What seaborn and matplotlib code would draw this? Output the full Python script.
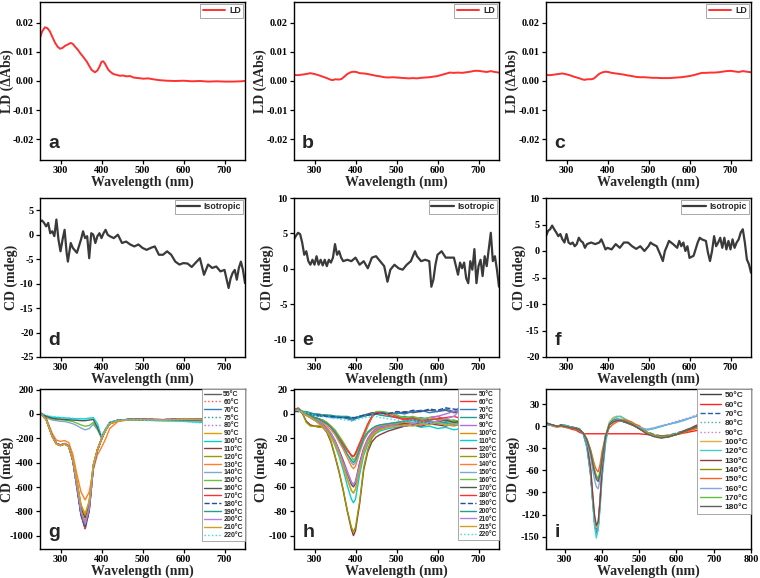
import matplotlib
matplotlib.use("Agg")
import matplotlib.pyplot as plt
import seaborn as sns

# ---------------- data ----------------
# Panel a: LD
a_wl = [250, 255, 262, 268, 274, 280, 287, 293, 299, 305, 311, 318, 325, 330, 335, 342, 348, 356, 364, 370,
        376, 384, 390, 396, 400, 404, 408, 413, 417, 423, 429, 437, 445, 453, 461, 470, 478, 490, 502, 514,
        526, 540, 559, 580, 600, 620, 640, 660, 681, 700, 722, 740, 750]
a_ld = [0.0148, 0.0170, 0.0185, 0.0182, 0.0171, 0.0152, 0.0131, 0.0118, 0.0111, 0.0114, 0.0121, 0.0126,
        0.0131, 0.0128, 0.0119, 0.0108, 0.0096, 0.0082, 0.0067, 0.0052, 0.0038, 0.0030, 0.0036, 0.0052,
        0.0066, 0.0068, 0.0061, 0.0048, 0.0038, 0.0030, 0.0024, 0.0021, 0.0018, 0.0019, 0.0016, 0.0017,
        0.0012, 0.0010, 0.0008, 0.0009, 0.0006, 0.0003, 0.0001, 0.0000, 0.0001, -0.0001, 0.0000, -0.0002,
        -0.0001, -0.0002, -0.0002, -0.0001, 0.0000]

# Panels b, c: LD
bc_wl = [250, 260, 270, 280, 290, 300, 310, 320, 330, 340, 345, 350, 360, 366, 372, 380, 388, 395, 402, 410,
         420, 430, 440, 450, 460, 470, 480, 490, 500, 510, 520, 530, 540, 550, 560, 570, 580, 590, 600, 610,
         620, 630, 640, 650, 660, 670, 680, 690, 700, 710, 720, 730, 740, 750]
b_ld = [0.0021, 0.0020, 0.0022, 0.0024, 0.0027, 0.0024, 0.0020, 0.0015, 0.0010, 0.0004, 0.0003, 0.0006,
        0.0005, 0.0007, 0.0014, 0.0024, 0.0030, 0.0032, 0.0031, 0.0027, 0.0026, 0.0024, 0.0021, 0.0018,
        0.0016, 0.0013, 0.0012, 0.0013, 0.0012, 0.0011, 0.0010, 0.0009, 0.0010, 0.0009, 0.0011, 0.0012,
        0.0013, 0.0015, 0.0017, 0.0021, 0.0025, 0.0029, 0.0028, 0.0029, 0.0028, 0.0030, 0.0032, 0.0035,
        0.0035, 0.0033, 0.0031, 0.0034, 0.0031, 0.0029]
c_ld = [0.0021, 0.0020, 0.0022, 0.0024, 0.0026, 0.0023, 0.0019, 0.0014, 0.0010, 0.0005, 0.0004, 0.0006,
        0.0006, 0.0008, 0.0015, 0.0025, 0.0030, 0.0032, 0.0031, 0.0028, 0.0026, 0.0024, 0.0022, 0.0019,
        0.0017, 0.0014, 0.0013, 0.0013, 0.0012, 0.0011, 0.0011, 0.0010, 0.0010, 0.0010, 0.0011, 0.0012,
        0.0013, 0.0015, 0.0017, 0.0020, 0.0024, 0.0028, 0.0028, 0.0029, 0.0029, 0.0030, 0.0032, 0.0034,
        0.0035, 0.0033, 0.0031, 0.0034, 0.0032, 0.0030]

# Panel d: isotropic CD
d_wl = [250, 255, 260, 265, 270, 275, 280, 285, 290, 295, 300, 305, 310, 315, 318, 325, 330, 340, 350, 355,
        360, 365, 370, 375, 380, 385, 390, 395, 400, 405, 410, 415, 420, 430, 440, 450, 460, 470, 480, 490,
        500, 510, 520, 530, 540, 550, 560, 570, 580, 590, 600, 610, 620, 630, 640, 650, 660, 670, 680, 690,
        700, 710, 715, 720, 725, 730, 735, 740, 745, 750]
d_cd = [2.7, 2.9, 2.4, 1.7, 2.4, 0.3, 0.7, -0.3, 3.1, -1.0, -3.4, -1.0, 1.0, -3.7, -5.5, -1.7, -2.7, -3.7,
        -1.0, 0.7, -0.7, -0.3, -4.8, 0.3, 0.0, -1.7, -0.3, 0.3, -0.7, 0.3, 1.0, 0.0, -0.3, -0.7, 0.0, -1.7,
        -1.4, -2.0, -2.4, -2.0, -2.7, -3.1, -2.7, -2.4, -4.1, -4.1, -3.4, -4.1, -5.5, -6.1, -5.8, -5.9, -6.6,
        -5.7, -4.8, -8.2, -6.1, -6.8, -6.5, -7.5, -7.2, -10.9, -8.9, -7.8, -7.2, -9.2, -6.8, -5.5, -7.2, -9.9]

# Panel e: isotropic CD
e_wl = [250, 255, 260, 265, 270, 275, 280, 285, 290, 295, 300, 305, 310, 315, 320, 325, 330, 335, 340, 345,
        350, 355, 360, 365, 370, 380, 390, 400, 410, 420, 430, 440, 450, 460, 470, 478, 485, 495, 505, 515,
        525, 535, 545, 550, 560, 570, 580, 585, 590, 595, 600, 610, 620, 630, 640, 650, 655, 660, 665, 670,
        675, 680, 685, 690, 695, 700, 705, 710, 715, 720, 725, 730, 735, 740, 745, 750]
e_cd = [4.2, 4.7, 5.1, 4.9, 3.7, 2.0, 2.5, 1.1, 0.6, 1.3, 0.6, 1.8, 0.6, 1.3, 0.5, 1.3, 0.4, 1.3, 0.9, 1.6,
        3.5, 2.0, 2.5, 1.6, 1.1, 1.3, 1.1, 1.6, 0.6, 1.1, 0.1, 1.6, 1.8, 1.1, 0.4, -1.8, -0.1, 0.6, 0.1, -0.1,
        0.6, 1.1, 2.5, 1.8, 1.1, 1.3, 1.1, -2.5, -1.5, 0.6, 2.0, 2.5, 1.6, 1.6, 1.6, -0.8, 0.9, 0.1, 0.9, -1.3,
        -2.0, 1.1, -0.1, 2.8, -2.0, 0.4, 1.3, -1.0, 1.8, 0.4, 2.8, 5.1, 1.1, 1.8, -0.1, -2.5]

# Panel f: isotropic CD
f_wl = [250, 255, 260, 265, 270, 275, 280, 285, 290, 295, 300, 305, 310, 315, 320, 325, 330, 335, 340, 345,
        350, 360, 370, 380, 385, 390, 395, 400, 410, 420, 430, 440, 450, 460, 470, 480, 490, 500, 505, 510,
        520, 530, 535, 540, 545, 550, 560, 570, 575, 580, 585, 590, 595, 600, 610, 620, 625, 630, 640, 645,
        650, 655, 660, 665, 670, 675, 680, 685, 690, 695, 700, 705, 710, 715, 720, 725, 730, 735, 740, 745, 750]
f_cd = [2.8, 3.8, 4.1, 4.8, 4.1, 3.5, 2.8, 3.2, 2.2, 1.6, 3.2, 1.6, 1.3, 1.6, 0.9, 1.3, 2.5, 1.9, 1.6, 0.6,
        1.3, 1.6, 1.3, 1.6, 2.2, 1.3, 0.3, 0.6, 0.3, 1.3, 0.6, 1.6, 1.6, 0.9, 0.4, 0.9, 0.0, 0.9, 1.6, 1.3,
        0.9, -0.9, -1.9, 0.0, 0.9, 1.9, 1.3, 0.6, 1.9, 0.9, 1.6, 0.0, 0.9, -1.3, -0.9, 1.6, 2.5, 2.2, 1.9, -0.3,
        -1.9, 0.0, 2.8, 0.9, 1.6, 2.5, 0.6, 2.5, 0.3, 1.9, 0.3, 2.2, 0.6, 1.6, 2.2, 3.5, 4.1, 1.6, -1.6, -2.5, -4.1]

# Panel g: temperature series
g_wl = [250, 265, 280, 290, 300, 310, 320, 330, 340, 350, 360, 370, 380, 390, 400, 410, 420, 440, 470, 500,
        550, 600, 650, 700, 750]
g_labels = ["55°C", "60°C", "70°C", "75°C", "80°C", "90°C", "100°C", "110°C", "120°C", "130°C", "140°C",
            "150°C", "160°C", "170°C", "180°C", "190°C", "200°C", "210°C", "220°C"]
g_55 = [8, -45, -185, -245, -258, -245, -265, -370, -560, -760, -850, -730, -420, -295, -205, -130, -80, -55, -45, -45, -50, -42, -45, -55, -60]
g_60 = [10, -40, -180, -240, -255, -242, -262, -385, -610, -840, -950, -800, -450, -300, -210, -130, -78, -54, -44, -44, -48, -40, -44, -52, -58]
g_70 = [10, -42, -182, -242, -256, -243, -263, -383, -605, -830, -940, -795, -445, -298, -208, -128, -78, -52, -42, -42, -46, -38, -42, -50, -75]
g_75 = [9, -44, -184, -244, -257, -244, -264, -378, -590, -800, -900, -770, -435, -296, -206, -129, -79, -54, -44, -44, -48, -40, -43, -52, -62]
g_80 = [10, -41, -181, -241, -255, -243, -262, -380, -598, -815, -920, -785, -440, -297, -207, -129, -78, -53, -43, -43, -47, -39, -43, -51, -60]
g_90 = [9, -43, -183, -243, -256, -244, -263, -375, -585, -790, -880, -760, -432, -296, -206, -130, -80, -55, -45, -46, -50, -42, -45, -54, -62]
g_100 = [10, -15, -25, -28, -30, -32, -35, -38, -40, -40, -40, -35, -30, -80, -190, -120, -70, -50, -45, -50, -55, -60, -70, -85, -95]
g_110 = [8, -46, -186, -246, -259, -246, -266, -372, -565, -765, -850, -735, -425, -294, -205, -131, -81, -56, -46, -46, -50, -43, -46, -56, -63]
g_120 = [8, -46, -187, -247, -260, -247, -267, -368, -555, -750, -830, -720, -418, -292, -204, -131, -81, -56, -46, -47, -51, -44, -47, -57, -64]
g_130 = [12, -35, -160, -215, -225, -218, -235, -330, -495, -640, -705, -640, -460, -335, -275, -205, -120, -62, -46, -45, -50, -42, -45, -55, -60]
g_140 = [10, -30, -50, -55, -60, -62, -70, -80, -95, -115, -130, -120, -85, -130, -195, -140, -75, -52, -45, -50, -55, -55, -60, -70, -80]
g_150 = [10, -25, -40, -45, -48, -50, -55, -62, -75, -90, -100, -95, -70, -120, -195, -135, -72, -52, -45, -48, -52, -50, -55, -65, -75]
g_160 = [8, -20, -35, -40, -42, -45, -48, -50, -52, -55, -55, -50, -45, -110, -190, -130, -70, -50, -45, -48, -50, -48, -52, -60, -70]
g_170 = [10, -41, -181, -241, -255, -242, -262, -382, -603, -828, -940, -793, -443, -298, -208, -129, -78, -53, -43, -43, -47, -39, -43, -51, -59]
g_180 = [10, -42, -182, -242, -256, -243, -263, -381, -600, -822, -930, -790, -442, -297, -207, -129, -79, -53, -43, -43, -47, -39, -43, -51, -59]
g_190 = [9, -43, -183, -243, -256, -243, -263, -379, -594, -808, -910, -778, -438, -296, -206, -129, -79, -54, -44, -44, -48, -40, -44, -52, -60]
g_200 = [9, -43, -183, -243, -257, -244, -264, -377, -588, -800, -900, -772, -436, -296, -206, -130, -79, -54, -44, -44, -48, -40, -44, -52, -60]
g_210 = [8, -47, -188, -248, -260, -247, -268, -366, -550, -742, -820, -712, -415, -292, -204, -131, -81, -57, -47, -47, -51, -44, -47, -57, -64]
g_220 = [12, -10, -20, -24, -28, -30, -32, -35, -36, -37, -38, -33, -28, -75, -180, -115, -68, -50, -48, -52, -58, -62, -75, -90, -100]

# Panel h: temperature series
h_wl = [250, 260, 270, 280, 290, 300, 310, 320, 330, 340, 350, 360, 370, 380, 390, 395, 400, 410, 420, 430,
        440, 450, 460, 480, 500, 520, 540, 560, 580, 600, 620, 640, 660, 680, 700, 720, 750]
h_labels = ["50°C", "60°C", "70°C", "80°C", "90°C", "100°C", "110°C", "120°C", "130°C", "140°C", "150°C",
            "160°C", "170°C", "180°C", "190°C", "200°C", "210°C", "215°C", "220°C"]
h_50 = [3, 4, 2, 1, 0, 0, -1, -1, -1, -2, -2, -2, -3, -3, -4, -4, -3, -2, -1, 0, 1, 1, 0, 1, 0, 2, 1, 2, 3, 2, 3, 1, 2, 3, 2, 1, 2]
h_60 = [3, 5, 2, 0, -2, -3, -4, -5, -7, -10, -14, -19, -24, -29, -34, -35, -33, -26, -18, -10, -3, 1, 2, 1, -2, -4, -3, -5, -3, -2, -5, -6, -9, -8, -10, -11, -12]
h_70 = [2, 3, 1, 0, -1, -1, -2, -2, -2, -3, -3, -3, -3, -4, -5, -5, -4, -3, -2, -1, 0, 0, 1, 0, 1, 0, 2, 3, 1, 2, 4, 2, 3, 5, 3, 2, 3]
h_80 = [4, 3, 2, 2, 1, 0, 0, -1, -1, -1, -2, -2, -2, -2, -3, -3, -3, -2, -2, -1, -1, 0, -1, -2, -3, -2, -4, -3, -5, -4, -6, -5, -7, -6, -8, -7, -9]
h_90 = [3, 3, 1, -1, -3, -5, -7, -9, -12, -16, -22, -30, -38, -47, -56, -58, -55, -40, -28, -20, -15, -12, -10, -9, -8, -6, -7, -5, -3, -2, 0, 2, 7, 4, 3, 2, 1]
h_100 = [3, 4, 2, -1, -3, -5, -7, -10, -13, -18, -24, -32, -42, -53, -63, -65, -62, -45, -31, -22, -17, -14, -12, -10, -9, -8, -9, -7, -8, -6, -8, -7, -9, -10, -11, -10, -12]
h_110 = [4, 4, 2, 0, -2, -4, -6, -8, -12, -18, -26, -35, -46, -59, -70, -73, -70, -50, -34, -25, -19, -16, -14, -12, -11, -10, -9, -11, -10, -12, -11, -13, -12, -14, -13, -12, -14]
h_120 = [3, 4, 1, -6, -9, -10, -10, -11, -15, -23, -35, -48, -63, -80, -95, -100, -96, -74, -46, -31, -23, -19, -17, -14, -12, -10, -9, -10, -8, -9, -10, -8, -10, -11, -12, -11, -13]
h_130 = [3, 3, 1, -7, -10, -10, -11, -11, -14, -22, -34, -47, -62, -79, -93, -97, -93, -72, -44, -29, -20, -15, -12, -10, -9, -8, -7, -8, -6, -7, -5, -6, -8, -9, -10, -9, -11]
h_140 = [4, 4, 2, 0, -2, -3, -5, -7, -10, -13, -17, -23, -29, -36, -43, -45, -43, -32, -22, -16, -13, -11, -10, -9, -8, -7, -8, -9, -7, -8, -9, -10, -8, -9, -11, -10, -12]
h_150 = [3, 3, 2, 0, -1, -3, -4, -6, -8, -11, -15, -20, -26, -33, -40, -42, -40, -30, -21, -15, -12, -10, -9, -8, -7, -6, -7, -8, -6, -7, -8, -7, -9, -8, -10, -9, -11]
h_160 = [3, 4, 2, 0, -2, -3, -4, -5, -7, -10, -13, -18, -23, -29, -35, -38, -36, -28, -19, -10, -2, 2, 2, 1, -1, -3, -2, -4, -3, -5, -4, -6, -5, -7, -6, -8, -9]
h_170 = [3, 3, 1, -1, -3, -5, -7, -9, -12, -16, -22, -30, -39, -49, -58, -60, -57, -41, -29, -21, -16, -13, -11, -10, -9, -8, -9, -7, -8, -6, -5, -7, -6, -8, -7, -9, -8]
h_180 = [4, 4, 2, 0, -1, -3, -4, -6, -8, -11, -15, -20, -25, -30, -34, -35, -32, -24, -16, -8, -2, 1, 1, -1, -3, -5, -4, -6, -5, -4, -3, -2, -4, -3, -5, -4, -6]
h_190 = [2, 2, 1, 0, 0, -1, -1, -1, -2, -2, -2, -3, -3, -3, -3, -3, -3, -2, -1, -1, 0, 0, 1, 0, 2, 1, 3, 2, 4, 3, 5, 4, 3, 6, 4, 3, 4]
h_200 = [3, 4, 2, 0, -1, -3, -4, -6, -8, -11, -15, -21, -27, -33, -38, -40, -38, -29, -20, -15, -12, -10, -9, -8, -7, -6, -5, -7, -6, -8, -7, -9, -8, -10, -9, -11, -10]
h_210 = [3, 3, 1, -1, -3, -5, -7, -9, -12, -16, -22, -31, -40, -48, -56, -58, -56, -42, -29, -21, -16, -13, -11, -10, -9, -10, -8, -9, -7, -6, -4, -2, 5, 3, 2, 4, 3]
h_215 = [3, 3, 1, -1, -3, -5, -8, -11, -14, -19, -25, -33, -43, -54, -63, -65, -62, -46, -32, -23, -18, -15, -13, -11, -10, -9, -10, -8, -9, -7, -9, -8, -10, -9, -11, -10, -11]
h_220 = [4, 3, 2, 1, 0, -1, -2, -2, -3, -3, -4, -4, -5, -5, -6, -6, -5, -4, -3, -3, -2, -2, -3, -4, -5, -6, -5, -7, -8, -7, -9, -8, -10, -9, -11, -10, -12]

# Panel i: temperature series
i_wl = [250, 260, 270, 280, 290, 300, 310, 320, 330, 340, 350, 360, 370, 375, 380, 385, 390, 395, 400, 410,
        420, 430, 440, 450, 460, 470, 480, 490, 500, 520, 540, 560, 580, 600, 620, 640, 660, 680, 700]
i_labels = ["50°C", "60°C", "70°C", "80°C", "90°C", "100°C", "120°C", "130°C", "140°C", "150°C", "160°C",
            "170°C", "180°C"]
i_50 = [5, 3, 1, 0, 2, 1, 0, -1, -2, -4, -10, -28, -68, -100, -128, -140, -134, -100, -60, -14, 3, 8, 9, 8, 6, 5, 3, 0, -3, -9, -13, -15, -14, -11, -7, -3, 2, 6, 9]
i_60 = [4, 2, 1, 0, 1, -1, -2, -4, -5, -8, -10, -10, -10, -10, -10, -10, -10, -10, -10, -10, -10, -10, -10, -10, -10, -10, -10, -10, -10, -11, -12, -13, -12, -11, -9, -7, -5, -2, 1]
i_70 = [3, 2, 1, 1, 0, 1, 0, -2, -3, -5, -9, -26, -65, -98, -130, -145, -138, -108, -68, -18, 2, 8, 10, 9, 7, 5, 3, 1, -2, -7, -11, -13, -12, -9, -6, -2, 3, 7, 10]
i_80 = [4, 3, 1, 0, 1, 2, 1, -1, -2, -4, -9, -27, -66, -100, -133, -148, -141, -110, -70, -20, 2, 9, 11, 10, 8, 6, 3, 1, -2, -5, -3, 0, 3, 6, 9, 12, 16, 19, 22]
i_90 = [3, 2, 2, 1, 0, 1, 0, -2, -3, -5, -10, -27, -64, -97, -128, -142, -136, -106, -66, -17, 3, 9, 11, 10, 8, 5, 3, 1, -1, -4, -2, 1, 4, 7, 10, 13, 17, 21, 23]
i_100 = [4, 2, 1, 0, 1, 2, 0, -1, -2, -4, -9, -24, -60, -92, -122, -138, -133, -104, -62, -12, 6, 12, 14, 13, 10, 7, 4, 1, -2, -8, -12, -14, -13, -10, -6, -2, 2, 5, 8]
i_120 = [3, 2, 1, 0, 1, 2, 0, -1, -2, -3, -10, -30, -65, -100, -135, -152, -140, -112, -72, -22, 4, 10, 13, 14, 11, 8, 5, 2, -1, -5, -3, 0, 3, 5, 8, 12, 15, 18, 21]
i_130 = [4, 3, 1, 0, 2, 1, 0, -1, -2, -4, -9, -24, -58, -90, -120, -135, -130, -102, -62, -15, 3, 8, 9, 8, 6, 4, 2, 0, -3, -9, -13, -15, -13, -10, -6, -2, 3, 7, 10]
i_140 = [5, 3, 1, 0, 1, 0, -1, -2, -3, -5, -9, -18, -35, -48, -60, -69, -72, -64, -45, -12, 2, 6, 8, 9, 8, 6, 4, 1, -2, -8, -12, -14, -13, -11, -8, -4, 0, 4, 7]
i_150 = [4, 2, 0, -1, 0, -1, -2, -3, -4, -6, -9, -17, -32, -42, -52, -59, -62, -52, -35, -12, -2, 3, 6, 8, 9, 8, 6, 3, 1, -8, -13, -15, -14, -11, -8, -5, -2, 1, 4]
i_160 = [3, 2, 1, 0, 1, 1, 0, -1, -3, -5, -10, -22, -42, -58, -72, -82, -85, -72, -50, -16, 2, 7, 9, 8, 7, 5, 3, 1, -1, -4, -2, 1, 3, 6, 9, 12, 15, 18, 20]
i_170 = [4, 3, 1, 0, 1, 0, -1, -2, -3, -5, -9, -18, -34, -47, -58, -67, -70, -62, -43, -12, 2, 6, 8, 8, 7, 6, 4, 1, -2, -9, -13, -15, -13, -10, -7, -3, 1, 5, 8]
i_180 = [5, 3, 2, 0, 1, 0, -1, -2, -3, -5, -9, -19, -36, -50, -62, -72, -75, -66, -46, -13, 2, 6, 8, 8, 7, 5, 3, 0, -3, -10, -14, -16, -14, -11, -7, -3, 1, 5, 9]

# ---------------- style ----------------
sns.set_style("ticks")
plt.rcParams.update({
    "font.family": ["Liberation Serif", "DejaVu Serif"],
    "font.weight": "bold",
    "axes.labelweight": "bold",
    "axes.unicode_minus": False,
    "axes.linewidth": 1.0,
    "axes.edgecolor": "black",
    "xtick.color": "black", "ytick.color": "black",
    "xtick.major.size": 3, "ytick.major.size": 3,
    "xtick.major.width": 0.9, "ytick.major.width": 0.9,
    "xtick.labelsize": 7.3, "ytick.labelsize": 7.3,
    "xtick.major.pad": 1.5, "ytick.major.pad": 1.5,
    "xtick.direction": "out", "ytick.direction": "out",
})
SANS = ["Liberation Sans", "DejaVu Sans"]

fig = plt.figure(figsize=(7.6, 5.78), dpi=100)
lefts = [40, 294, 546]
tops = [2, 198, 389]
bottoms = [160, 357, 549]
W = 205
# x position (axes fraction) of the right edge of each y label, by row and column
ylab_x = [[-0.127, -0.132, -0.132],
          [-0.105, -0.100, -0.100],
          [-0.125, -0.128, -0.128]]


def add_ax(r, c):
    l = lefts[c] / 760
    b = 1 - bottoms[r] / 578
    h = (bottoms[r] - tops[r]) / 578
    ax = fig.add_axes([l, b, W / 760, h])
    for s in ax.spines.values():
        s.set_visible(True)
        s.set_linewidth(1.0)
        s.set_color("black")
    return ax


def finish(ax, r, c, letter, ylabel, xlim, ylim, yticks, xticks, yfmt=None):
    ax.set_xlim(*xlim)
    ax.set_ylim(*ylim)
    ax.set_xticks(xticks)
    ax.set_yticks(yticks)
    if yfmt:
        ax.set_yticklabels([yfmt % v for v in yticks])
    ax.set_xlabel("Wavelength (nm)", fontsize=10, labelpad=0.5)
    ax.set_ylabel(ylabel, fontsize=10)
    ax.yaxis.set_label_coords(ylab_x[r][c], 0.5)
    ax.text(0.04, 0.05, letter, transform=ax.transAxes, fontsize=14, fontweight="bold",
            family=SANS, ha="left", va="bottom")
    for t in ax.get_xticklabels() + ax.get_yticklabels():
        t.set_fontweight("bold")


def small_legend(ax):
    leg = ax.legend(loc="upper right", bbox_to_anchor=(1, 1), borderaxespad=0.25, frameon=True,
                    fancybox=False, edgecolor="#9a9a9a", framealpha=1, handlelength=2.6,
                    handletextpad=0.4, borderpad=0.25,
                    prop={"family": SANS, "weight": "bold", "size": 6.3})
    leg.get_frame().set_linewidth(0.6)


def temp_legend(ax, size, spacing, hl):
    leg = ax.legend(loc="upper right", bbox_to_anchor=(1, 1), borderaxespad=0, frameon=True,
                    fancybox=False, edgecolor="#9a9a9a", framealpha=1, handlelength=hl,
                    handletextpad=0.4, borderpad=0.3, labelspacing=spacing,
                    prop={"family": SANS, "weight": "bold", "size": size})
    leg.get_frame().set_linewidth(0.6)


RED = "#ff3030"
GRAY = "#3a3a3a"
xt = [300, 400, 500, 600, 700]

# top row
for c, (wl, vals, letter) in enumerate([(a_wl, a_ld, "a"), (bc_wl, b_ld, "b"), (bc_wl, c_ld, "c")]):
    ax = add_ax(0, c)
    sns.lineplot(x=wl, y=vals, ax=ax, color=RED, lw=1.4, label="LD", sort=False)
    finish(ax, 0, c, letter, "LD (ΔAbs)", (250, 750), (-0.0272, 0.0272),
           [-0.02, -0.01, 0.0, 0.01, 0.02], xt, "%.2f")
    small_legend(ax)

# middle row
mid = [(d_wl, d_cd, "d", (-25, 7.5), [-25, -20, -15, -10, -5, 0, 5]),
       (e_wl, e_cd, "e", (-12.4, 10), [-10, -5, 0, 5, 10]),
       (f_wl, f_cd, "f", (-20, 10), [-20, -15, -10, -5, 0, 5, 10])]
for c, (wl, vals, letter, yl, yt) in enumerate(mid):
    ax = add_ax(1, c)
    sns.lineplot(x=wl, y=vals, ax=ax, color=GRAY, lw=1.6, label="Isotropic", sort=False)
    finish(ax, 1, c, letter, "CD (mdeg)", (250, 750), yl, yt, xt)
    small_legend(ax)

# bottom row palettes
g_series = [g_55, g_60, g_70, g_75, g_80, g_90, g_100, g_110, g_120, g_130, g_140, g_150, g_160,
            g_170, g_180, g_190, g_200, g_210, g_220]
g_colors = ["#606060", "#ff5050", "#2f7fc1", "#20a090", "#b070e0", "#e0a000", "#00d0d0", "#8b3a3a",
            "#9a9a00", "#ff7f27", "#7fa8d0", "#70c040", "#555555", "#ff3030", "#1f4e9a", "#20a090",
            "#b080e0", "#d0a020", "#30e0e0"]
g_styles = ["-", ":", "-", ":", ":", "-", "-", "-", "-", "-", "-", "-", "-", "-", "--", "-", "-", "-", ":"]

h_series = [h_50, h_60, h_70, h_80, h_90, h_100, h_110, h_120, h_130, h_140, h_150, h_160, h_170,
            h_180, h_190, h_200, h_210, h_215, h_220]
h_colors = ["#606060", "#ff3030", "#2f7fc1", "#20a090", "#b070e0", "#e09000", "#00d0d0", "#8b3a3a",
            "#9a9a00", "#ff7f27", "#7fa8d0", "#70c040", "#555555", "#ff3030", "#1f4e9a", "#20a090",
            "#b080e0", "#d0a020", "#30e0e0"]
h_styles = ["-", "-", "-", "-", "-", "-", "-", "-", "-", "-", "-", "-", "-", "-", "--", "-", "-", "-", ":"]

i_series = [i_50, i_60, i_70, i_80, i_90, i_100, i_120, i_130, i_140, i_150, i_160, i_170, i_180]
i_colors = ["#404040", "#ff2020", "#2060b0", "#40b0b0", "#c080e0", "#e0b040", "#40d0d0", "#8b4040",
            "#909000", "#ff6020", "#80a8e0", "#60c040", "#606060"]
i_styles = ["-", "-", "--", ":", ":", "-", "-", "-", "-", "-", "-", "-", "-"]

bottom = [
    (g_wl, g_series, g_labels, g_colors, g_styles, "g", (250, 750), (-1108, 205),
     [-1000, -800, -600, -400, -200, 0, 200], xt, 5.0, 0.12, 2.4),
    (h_wl, h_series, h_labels, h_colors, h_styles, "h", (250, 750), (-111, 20.5),
     [-100, -80, -60, -40, -20, 0, 20], xt, 4.8, 0.12, 2.4),
    (i_wl, i_series, i_labels, i_colors, i_styles, "i", (250, 800), (-167, 51),
     [-150, -120, -90, -60, -30, 0, 30], [300, 400, 500, 600, 700, 800], 6.0, 0.18, 2.6),
]
for c, (wl, series, labels, colors, styles, letter, xl, yl, yt, xtk, fs, sp, hl) in enumerate(bottom):
    ax = add_ax(2, c)
    for vals, lab, col, ls in zip(series, labels, colors, styles):
        sns.lineplot(x=wl, y=vals, ax=ax, color=col, lw=1.0, linestyle=ls, label=lab, sort=False)
    finish(ax, 2, c, letter, "CD (mdeg)", xl, yl, yt, xtk)
    temp_legend(ax, fs, sp, hl)

fig.savefig("out.png", dpi=100)
